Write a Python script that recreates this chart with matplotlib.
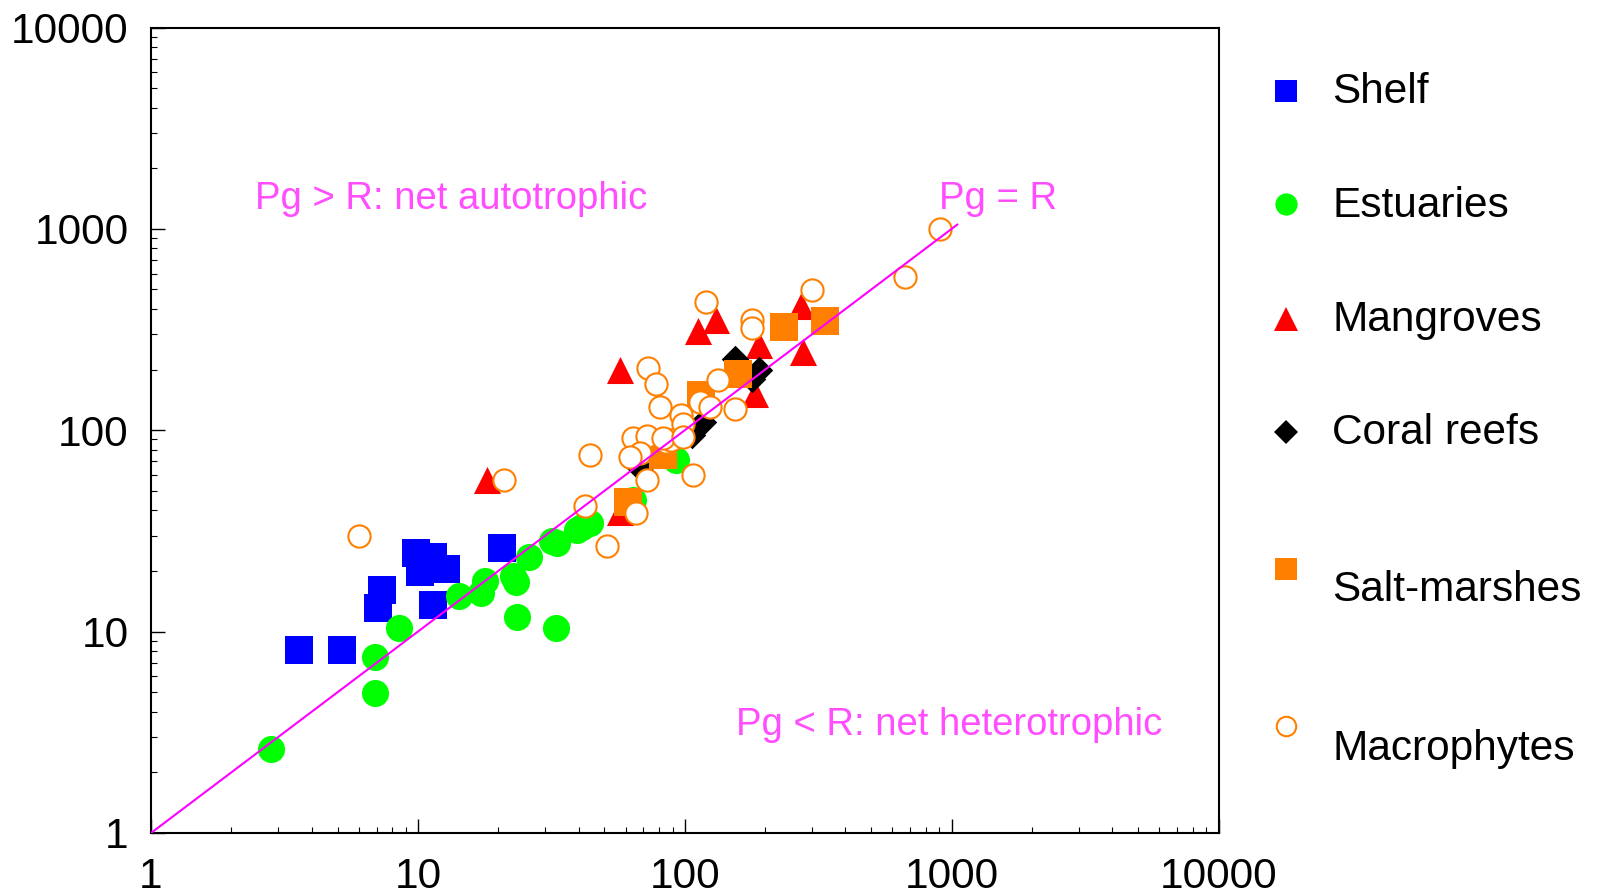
import matplotlib
matplotlib.use("Agg")
import matplotlib.pyplot as plt
from matplotlib.lines import Line2D
from matplotlib.ticker import LogLocator, FixedLocator, NullFormatter

plt.rcParams['font.family'] = ['Liberation Sans', 'DejaVu Sans']

# ---------------- data (Pg on x, R on y) ----------------
shelf_x = [3.58, 5.19, 7.31, 7.06, 9.83, 11.4, 10.2, 12.8, 11.4, 20.6]
shelf_y = [8.13, 8.13, 16.1, 13.1, 24.5, 23.4, 19.8, 20.4, 13.5, 26.0]

estuaries_x = [2.81, 6.92, 6.92, 8.51, 14.3, 17.2, 17.9, 23.4, 22.7, 23.5, 32.9,
               26.0, 31.8, 33.1, 39.5, 41.1, 44.1, 93.0, 64.0]
estuaries_y = [2.60, 7.51, 4.97, 10.4, 15.0, 15.5, 17.8, 17.7, 18.9, 11.8, 10.4,
               23.5, 28.3, 27.6, 32.1, 33.2, 34.5, 71.1, 45.0]

mangroves_x = [18.1, 57.3, 112, 131, 190, 273, 277, 184, 57.1]
mangroves_y = [56.4, 200, 311, 351, 265, 415, 245, 152, 39.4]

coral_x = [154.5, 189, 178, 117, 67.8, 106]
coral_y = [227, 200, 180, 110, 64.7, 94.7]

saltmarsh_x = [235, 334, 159, 115.5, 83, 61.3]
saltmarsh_y = [324, 349, 190, 150, 75, 44.2]

macro_x = [6.0, 21.1, 44.1, 42.2, 51.2, 65.5, 72.3, 107, 72.9, 78.3, 81.1, 97.2,
           98.6, 114, 124, 133, 154, 64, 71.9, 85.4, 67.8, 62.2, 89, 83, 98.6,
           120, 179, 179, 301, 902, 667]
macro_y = [29.8, 56.6, 75.3, 42.0, 26.6, 38.9, 56.6, 59.9, 203, 169, 131, 119,
           108, 138, 131, 177, 128, 91.2, 93.6, 87.7, 76.8, 73.9, 89.4, 92, 92.6,
           435, 352, 321, 497, 994, 574]

line_x = [1, 1050]
line_y = [1, 1050]

legend_labels = ['Shelf', 'Estuaries', 'Mangroves', 'Coral reefs', 'Salt-marshes', 'Macrophytes']
tick_values = [1, 10, 100, 1000, 10000]
tick_labels = ['1', '10', '100', '1000', '10000']

# ---------------- figure ----------------
W, H = 1597, 894
fig = plt.figure(figsize=(W / 100, H / 100), dpi=100)
ax = fig.add_axes([151 / W, 1 - 833 / H, (1218.5 - 151) / W, (833 - 27.5) / H])

ax.set_xscale('log')
ax.set_yscale('log')
ax.set_xlim(1, 10000)
ax.set_ylim(1, 10000)

ax.scatter(shelf_x, shelf_y, marker='s', s=19.5**2, color='#0000ff', linewidths=0, zorder=2)
ax.scatter(estuaries_x, estuaries_y, marker='o', s=19.5**2, color='#00ff00', linewidths=0, zorder=3)
ax.scatter(mangroves_x, mangroves_y, marker='^', s=19.5**2, color='#ff0000', linewidths=0, zorder=4)
ax.scatter(coral_x, coral_y, marker='D', s=14**2, color='black', linewidths=0, zorder=5)
ax.scatter(saltmarsh_x, saltmarsh_y, marker='s', s=19.5**2, color='#ff8000', linewidths=0, zorder=6)
ax.scatter(macro_x, macro_y, marker='o', s=16**2, facecolor='white', edgecolor='#ff8000',
           linewidths=1.5, zorder=7)
ax.plot(line_x, line_y, color='#ff00ff', lw=1.5, zorder=8)

txt_color = '#ff4dff'
ax.text(2.46, 1254, 'Pg > R: net autotrophic', color=txt_color, fontsize=27.5,
        ha='left', va='baseline')
ax.text(894, 1254, 'Pg = R', color=txt_color, fontsize=27.5, ha='left', va='baseline')
ax.text(155.8, 3.08, 'Pg < R: net heterotrophic', color=txt_color, fontsize=27.5,
        ha='left', va='baseline')

# ticks
for axis in (ax.xaxis, ax.yaxis):
    axis.set_major_locator(FixedLocator(tick_values))
    axis.set_minor_locator(LogLocator(base=10, subs=range(2, 10), numticks=20))
    axis.set_minor_formatter(NullFormatter())
ax.set_xticklabels(tick_labels)
ax.set_yticklabels(tick_labels)
ax.tick_params(which='major', direction='in', length=10, width=1.0, labelsize=30.5,
               top=False, right=False)
ax.tick_params(which='minor', direction='in', length=4.5, width=0.8, top=False, right=False)
ax.tick_params(axis='y', which='major', pad=16)
ax.tick_params(axis='x', which='major', pad=17)
for sp in ax.spines.values():
    sp.set_linewidth(1.5)

# ---------------- manual legend ----------------
def fx(px):
    return px / W

def fy(py):
    return 1 - py / H

marker_x = 1286
text_x = 1332
marker_ys = [91, 204, 319, 432, 569, 726]
text_base = [103, 217, 331, 444, 601, 760]
styles = [
    dict(marker='s', markersize=16, color='#0000ff', markeredgewidth=0),
    dict(marker='o', markersize=16, color='#00ff00', markeredgewidth=0),
    dict(marker='^', markersize=17, color='#ff0000', markeredgewidth=0),
    dict(marker='D', markersize=12, color='black', markeredgewidth=0),
    dict(marker='s', markersize=16, color='#ff8000', markeredgewidth=0),
    dict(marker='o', markersize=14, markerfacecolor='white', markeredgecolor='#ff8000',
         markeredgewidth=1.5),
]
for lab, my, ty, st in zip(legend_labels, marker_ys, text_base, styles):
    fig.add_artist(Line2D([fx(marker_x)], [fy(my)], transform=fig.transFigure,
                          linestyle='none', **st))
    fig.text(fx(text_x), fy(ty), lab, fontsize=30.5, ha='left', va='baseline')

fig.savefig('out.png', dpi=100)
